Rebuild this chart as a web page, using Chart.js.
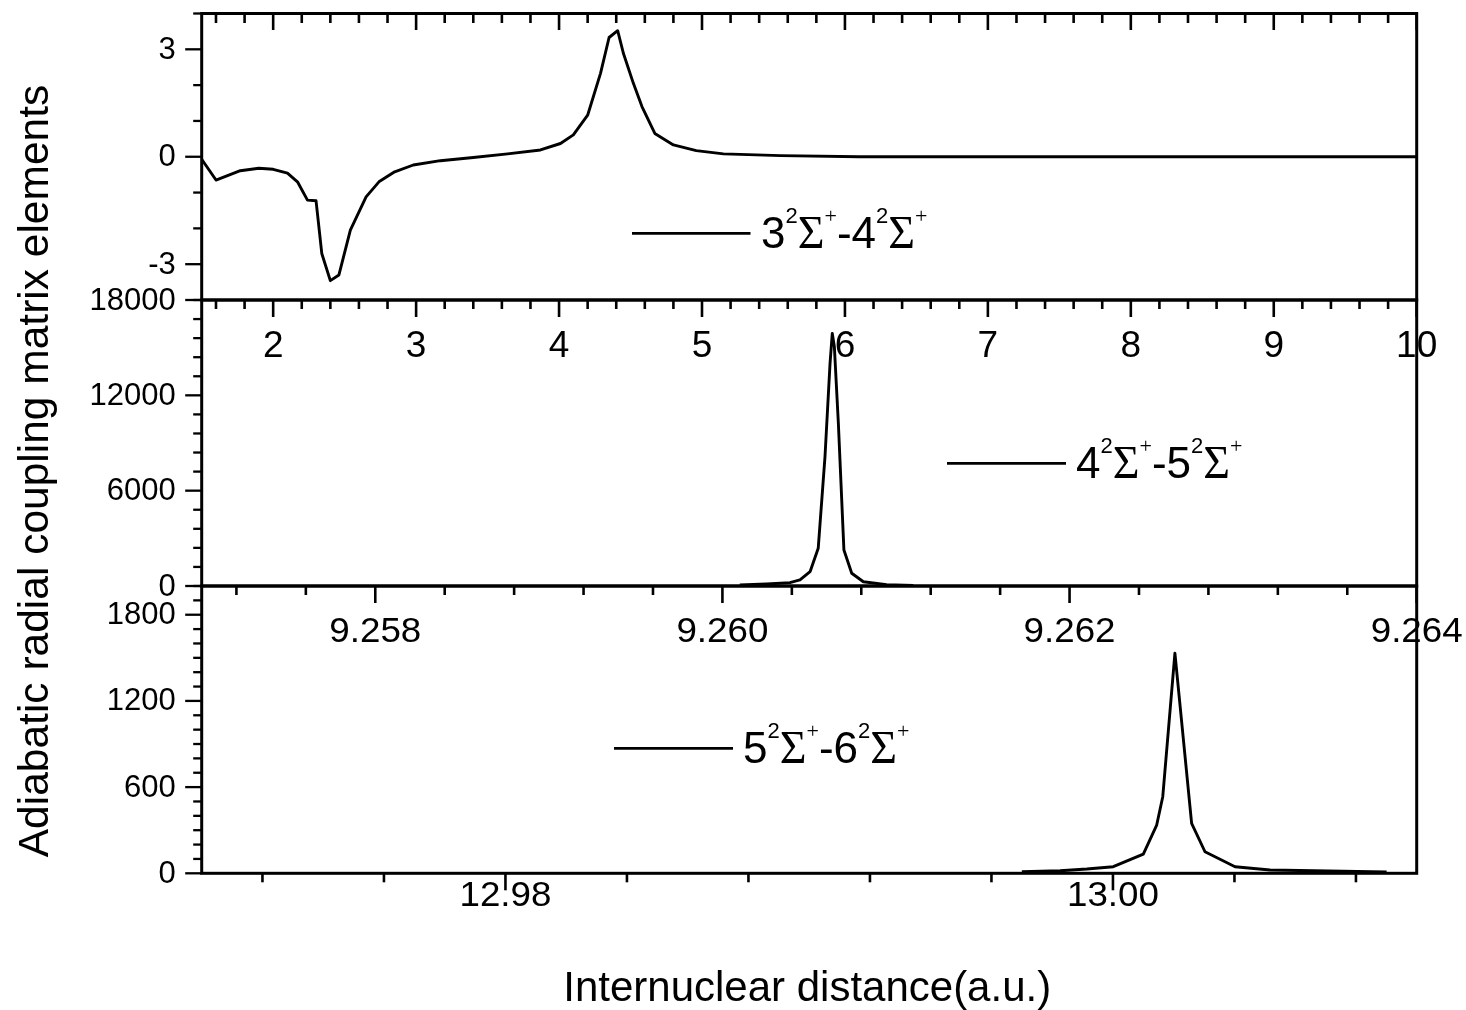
<!DOCTYPE html>
<html><head><meta charset="utf-8">
<script src="https://cdn.jsdelivr.net/npm/chart.js@4.4.0/dist/chart.umd.min.js"></script>
<style>
html,body{margin:0;padding:0;background:#fff;overflow:hidden;}
#wrap{position:relative;width:1466px;height:1010px;background:#fff;}
canvas{position:absolute;left:0;top:0;}
</style></head><body>
<div id="wrap">
<canvas id="c1" width="1466" height="1010"></canvas>
<canvas id="c2" width="1466" height="1010"></canvas>
<canvas id="c3" width="1466" height="1010"></canvas>
</div>
<script>
// ---------- data ----------
const SERIES1 = '3²Σ⁺-4²Σ⁺';
const X1 = [1.5, 1.6, 1.77, 1.9, 2.0, 2.1, 2.17, 2.24, 2.3, 2.34, 2.4, 2.46, 2.54, 2.65, 2.74, 2.85, 2.98, 3.17, 3.4, 3.64, 3.87, 4.01, 4.1, 4.2, 4.29, 4.35, 4.41, 4.45, 4.52, 4.58, 4.67, 4.8, 4.96, 5.15, 5.55, 6.1, 7, 8, 9, 10];
const Y1 = [-0.07, -0.65, -0.39, -0.32, -0.35, -0.46, -0.70, -1.21, -1.23, -2.70, -3.46, -3.30, -2.05, -1.12, -0.70, -0.42, -0.23, -0.11, -0.02, 0.08, 0.19, 0.37, 0.61, 1.16, 2.33, 3.33, 3.52, 2.89, 2.05, 1.40, 0.65, 0.33, 0.17, 0.08, 0.03, 0.0, 0, 0, 0, 0];

const SERIES2 = '4²Σ⁺-5²Σ⁺';
const X2 = [9.26010, 9.260255, 9.260389, 9.260447, 9.260505, 9.260552, 9.260591, 9.26062, 9.260633, 9.260645, 9.260668, 9.2607, 9.260745, 9.260812, 9.260946, 9.2611];
const Y2 = [60, 125, 210, 380, 900, 2370, 8140, 14000, 15900, 15060, 10240, 2270, 800, 270, 85, 40];

const SERIES3 = '5²Σ⁺-6²Σ⁺';
const X3 = [12.997, 12.99826, 12.99914, 13.00001, 13.00100, 13.00144, 13.00164, 13.00204, 13.00259, 13.00303, 13.00402, 13.00517, 13.00901];
const Y3 = [11, 18, 30, 46, 134, 336, 533, 1532, 348, 150, 46, 23, 9];

// axis ticks
const X1_TICKS = [2, 3, 4, 5, 6, 7, 8, 9, 10];
const X1_LABELS = ['2', '3', '4', '5', '6', '7', '8', '9', '10'];
const Y1_TICKS = [-3, 0, 3];
const Y1_LABELS = ['-3', '0', '3'];
const X2_TICKS = [9.258, 9.260, 9.262, 9.264];
const X2_LABELS = ['9.258', '9.260', '9.262', '9.264'];
const Y2_TICKS = [0, 6000, 12000, 18000];
const Y2_LABELS = ['0', '6000', '12000', '18000'];
const X3_TICKS = [12.98, 13.00];
const X3_LABELS = ['12.98', '13.00'];
const Y3_TICKS = [0, 600, 1200, 1800];
const Y3_LABELS = ['0', '600', '1200', '1800'];

const X_TITLE = 'Internuclear distance(a.u.)';
const Y_TITLE = 'Adiabatic radial coupling matrix elements';

// ---------- drawing helpers ----------
const SANS = 'Arial, "Liberation Sans", Helvetica, sans-serif';
const SERIF = '"Times New Roman", "Liberation Serif", serif';

function drawText(ctx, text, x, y, size, kx, align, baseline, rot) {
  ctx.save();
  ctx.translate(x, y);
  if (rot) ctx.rotate(rot);
  ctx.scale(kx, 1);
  ctx.font = size + 'px ' + SANS;
  ctx.textAlign = align;
  ctx.textBaseline = baseline;
  ctx.fillStyle = '#000';
  ctx.fillText(text, 0, 0);
  ctx.restore();
}
function seg(ctx, x0, y0, x1, y1) {
  ctx.beginPath(); ctx.moveTo(x0, y0); ctx.lineTo(x1, y1); ctx.stroke();
}
function tickVals(anchor, step, min, max) {
  const out = [];
  const eps = step * 1e-3;
  const kmin = Math.ceil((min - anchor) / step - 1e-6);
  const kmax = Math.floor((max - anchor) / step + 1e-6);
  for (let k = kmin; k <= kmax; k++) {
    const v = anchor + k * step;
    if (v >= min - eps && v <= max + eps) out.push(v);
  }
  return out;
}
function isMajor(v, majors, step) {
  return majors.some(m => Math.abs(m - v) < step * 1e-3);
}
function drawLegend(ctx, label, lx0, lx1, ly, tx, base) {
  ctx.save();
  ctx.strokeStyle = '#000'; ctx.lineWidth = 2.8;
  seg(ctx, lx0, ly, lx1, ly);
  ctx.fillStyle = '#000';
  ctx.textAlign = 'left'; ctx.textBaseline = 'alphabetic';
  let x = tx;
  for (const ch of label) {
    let t = ch, sup = false, serif = false;
    if (ch === '²') { t = '2'; sup = true; }
    else if (ch === '⁺') { t = '+'; sup = true; serif = true; }
    else if (ch === 'Σ') { serif = true; }
    const size = sup ? 22 : (serif ? 46 : 44);
    ctx.font = size + 'px ' + (serif ? SERIF : SANS);
    const y = sup ? base - 25 : base;
    ctx.fillText(t, x, y);
    x += ctx.measureText(t).width;
  }
  ctx.restore();
}

function panelPlugin(cfg) {
  return {
    id: 'panel' + cfg.id,
    afterDraw(chart) {
      const ctx = chart.ctx, a = chart.chartArea;
      const xs = chart.scales.x, ys = chart.scales.y;
      ctx.save();
      ctx.strokeStyle = '#000';
      ctx.lineCap = 'butt';
      // y ticks (outward, left)
      ctx.lineWidth = 2.3;
      tickVals(cfg.yMajor[0], cfg.yStep, ys.min, ys.max).forEach(v => {
        const len = isMajor(v, cfg.yMajor, cfg.yStep) ? 16.5 : 8.5;
        const py = ys.getPixelForValue(v);
        seg(ctx, a.left - len, py, a.left, py);
      });
      // x ticks
      ctx.lineWidth = 2.6;
      tickVals(cfg.xMajor[0], cfg.xStep, xs.min, xs.max).forEach(v => {
        const maj = isMajor(v, cfg.xMajor, cfg.xStep);
        const px = xs.getPixelForValue(v);
        seg(ctx, px, a.bottom, px, a.bottom + (maj ? 17 : 9));
        if (cfg.topTicks) seg(ctx, px, a.top, px, a.top + (maj ? 16.5 : 9.5));
      });
      // frame
      ctx.lineWidth = 3;
      ctx.strokeRect(a.left, a.top, a.right - a.left, a.bottom - a.top);
      // tick labels
      cfg.yMajor.forEach((v, i) => drawText(ctx, cfg.yLabels[i], a.left - 26, ys.getPixelForValue(v) + 1, cfg.yFont, cfg.yKx, 'right', 'middle'));
      cfg.xMajor.forEach((v, i) => drawText(ctx, cfg.xLabels[i], xs.getPixelForValue(v), a.bottom + cfg.xLabelDy, cfg.xFont, cfg.xKx, 'center', 'alphabetic'));
      // legend
      const L = cfg.legend;
      drawLegend(ctx, cfg.series, L[0], L[1], L[2], L[3], L[4]);
      // titles
      if (cfg.titles) {
        drawText(ctx, X_TITLE, (a.left + a.right) / 2 - 2, 1001, 42, 1, 'center', 'alphabetic');
        drawText(ctx, Y_TITLE, 48, 471, 42.5, 1, 'center', 'alphabetic', -Math.PI / 2);
      }
      ctx.restore();
    }
  };
}

function makePanel(cfg) {
  const pts = cfg.xs.map((x, i) => ({ x: x, y: cfg.ys[i] }));
  return new Chart(document.getElementById(cfg.canvas), {
    type: 'line',
    data: { datasets: [{ data: pts, borderColor: '#000', borderWidth: 2.9, pointRadius: 0, tension: 0, fill: false, borderJoinStyle: 'round' }] },
    options: {
      responsive: false, animation: false, events: [],
      layout: { padding: { left: 201.7, right: 1466 - 1416.7, top: cfg.top, bottom: 1010 - cfg.bottom } },
      scales: {
        x: { type: 'linear', min: cfg.xMin, max: cfg.xMax, display: false },
        y: { type: 'linear', min: cfg.yMin, max: cfg.yMax, display: false }
      },
      plugins: { legend: { display: false }, tooltip: { enabled: false } }
    },
    plugins: [panelPlugin(cfg)]
  });
}

makePanel({
  id: 1, canvas: 'c1', series: SERIES1, xs: X1, ys: Y1,
  xMin: 1.5, xMax: 10, yMin: -4, yMax: 4, top: 13.5, bottom: 300,
  xMajor: X1_TICKS, xLabels: X1_LABELS, xStep: 0.2,
  yMajor: Y1_TICKS, yLabels: Y1_LABELS, yStep: 1,
  topTicks: true, xFont: 37, xKx: 1, xLabelDy: 56.7, yFont: 31, yKx: 1,
  legend: [632, 750.5, 233.3, 761, 248.3]
});
makePanel({
  id: 2, canvas: 'c2', series: SERIES2, xs: X2, ys: Y2,
  xMin: 9.257, xMax: 9.264, yMin: 0, yMax: 18000, top: 300, bottom: 586,
  xMajor: X2_TICKS, xLabels: X2_LABELS, xStep: 0.0004,
  yMajor: Y2_TICKS, yLabels: Y2_LABELS, yStep: 1200,
  topTicks: false, xFont: 35, xKx: 1.05, xLabelDy: 55.7, yFont: 31, yKx: 1,
  legend: [947, 1066, 463.3, 1076, 478.3]
});
makePanel({
  id: 3, canvas: 'c3', series: SERIES3, xs: X3, ys: Y3,
  xMin: 12.97, xMax: 13.01, yMin: 0, yMax: 2000, top: 586, bottom: 873.3,
  xMajor: X3_TICKS, xLabels: X3_LABELS, xStep: 0.004,
  yMajor: Y3_TICKS, yLabels: Y3_LABELS, yStep: 100,
  topTicks: false, xFont: 35, xKx: 1.05, xLabelDy: 33, yFont: 31, yKx: 1,
  legend: [614, 733, 748.3, 743, 763.3],
  titles: true
});
</script>
</body></html>
